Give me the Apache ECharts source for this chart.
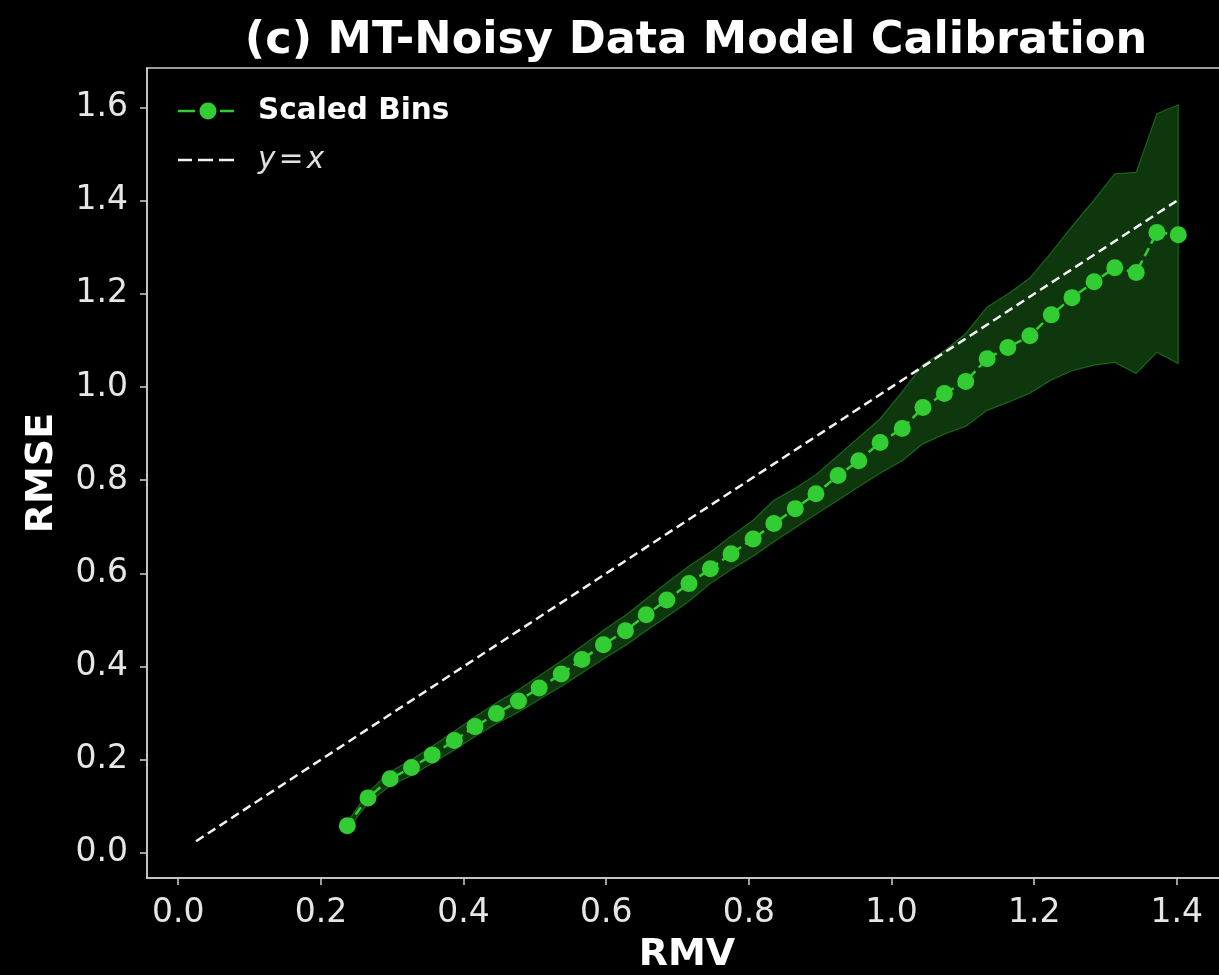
<!DOCTYPE html>
<html>
<head>
<meta charset="utf-8">
<script src="https://cdn.jsdelivr.net/npm/echarts@6/dist/echarts.min.js"></script>
<style>
html,body{margin:0;padding:0;background:#000;overflow:hidden}
#c{width:1219px;height:975px}
</style>
</head>
<body>
<div id="c"></div>
<script>
// RMV bin centers (x)
const rmv = [0.237,0.266,0.297,0.327,0.356,0.387,0.416,0.446,0.477,0.506,
             0.537,0.566,0.596,0.627,0.656,0.685,0.716,0.746,0.775,0.806,
             0.835,0.865,0.894,0.925,0.954,0.984,1.015,1.044,1.074,1.104,
             1.134,1.163,1.194,1.224,1.253,1.284,1.313,1.343,1.372,1.402];
// RMSE per bin (y)
const rmse = [0.058,0.118,0.159,0.183,0.210,0.241,0.271,0.299,0.326,0.354,
              0.384,0.415,0.447,0.477,0.511,0.543,0.578,0.610,0.642,0.674,
              0.707,0.739,0.771,0.810,0.842,0.881,0.911,0.956,0.986,1.012,
              1.061,1.085,1.110,1.155,1.192,1.226,1.256,1.246,1.332,1.327];
// lower / upper edge of the shaded band
const rmseLower = [0.050,0.106,0.144,0.166,0.192,0.221,0.250,0.277,0.302,0.329,
                   0.357,0.386,0.416,0.445,0.477,0.507,0.540,0.578,0.608,0.637,
                   0.668,0.698,0.727,0.757,0.786,0.815,0.842,0.878,0.899,0.916,
                   0.950,0.967,0.987,1.015,1.035,1.047,1.053,1.029,1.075,1.050];
const rmseUpper = [0.066,0.130,0.174,0.200,0.229,0.261,0.292,0.322,0.350,0.380,
                   0.412,0.444,0.478,0.510,0.545,0.580,0.616,0.646,0.680,0.714,
                   0.757,0.783,0.812,0.853,0.892,0.932,0.990,1.048,1.078,1.115,
                   1.172,1.200,1.234,1.289,1.345,1.402,1.458,1.461,1.587,1.606];
// identity line endpoints
const identityX = [0.025, 1.402];
// tick values
const xTicks = [0.0,0.2,0.4,0.6,0.8,1.0,1.2,1.4];
const yTicks = [0.0,0.2,0.4,0.6,0.8,1.0,1.2,1.4,1.6];

const FONT = 'DejaVu Sans';
const AX = '#d0d0d0';
const GREEN = '#32cd32';

const ICON_BINS = 'path://M0,7.3h17v2.4h-17z M21.5,8.5a8.5,8.5 0 1,0 17,0a8.5,8.5 0 1,0 -17,0z M42,7.3h14v2.4h-14z';
const ICON_ID = 'path://M0,0h0.01v0.01h-0.01z M0,7.3h14v2.4h-14z M20,7.3h15v2.4h-15z M41,7.3h15v2.4h-15z M55.99,16.99h0.01v0.01h-0.01z';

const chart = echarts.init(document.getElementById('c'), null, {renderer:'canvas'});

const option = {
  backgroundColor: '#000',
  animation: false,
  title: {
    text: '(c) MT-Noisy Data Model Calibration',
    left: 691, top: 14, textAlign: 'center',
    textStyle: {color:'#ffffff', fontFamily:FONT, fontWeight:'bold', fontSize:44.6}
  },
  grid: {
    left: 147, top: 68, width: 1080, height: 810,
    outerBoundsMode: 'none', containLabel: false,
    show: true, borderColor: AX, borderWidth: 1.5, backgroundColor: '#000'
  },
  legend: {
    data: [{name:'Scaled Bins', icon: ICON_BINS}, {name:'y = x', icon: ICON_ID}],
    orient: 'vertical',
    left: 173, top: 91,
    itemWidth: 56, itemHeight: 17, itemGap: 19,
    selectedMode: false,
    formatter: function (n) {
      return n === 'y = x' ? '{ii|y} {n|=} {i|x}' : '{b|Scaled Bins}';
    },
    textStyle: {
      color: '#fff',
      rich: {
        b: {fontFamily:FONT, fontWeight:'bold', fontSize:29.5, color:'#ffffff', lineHeight:32, padding:[0,0,0,19]},
        ii: {fontFamily:FONT, fontStyle:'italic', fontSize:29.5, color:'#e0e0e0', lineHeight:32, padding:[0,0,0,19]},
        i: {fontFamily:FONT, fontStyle:'italic', fontSize:29.5, color:'#e0e0e0', lineHeight:32},
        n: {fontFamily:FONT, fontSize:29.5, color:'#e0e0e0', lineHeight:32}
      }
    }
  },
  xAxis: {
    type: 'value', min: -0.0438, max: 1.4703,
    name: 'RMV', nameLocation: 'middle', nameGap: 58,
    nameTextStyle: {color:'#ffffff', fontFamily:FONT, fontWeight:'bold', fontSize:38},
    axisLine: {show:true, onZero:false, lineStyle:{color:AX, width:1.5}},
    axisTick: {show:true, inside:false, length:7, customValues:xTicks, lineStyle:{color:AX, width:1.5}},
    axisLabel: {customValues:xTicks, formatter: v => v.toFixed(1), color:'#e6e6e6', fontFamily:FONT, fontSize:33, margin:19},
    splitLine: {show:false}
  },
  yAxis: {
    type: 'value', min: -0.054, max: 1.685,
    name: 'RMSE', nameLocation: 'middle', nameGap: 86,
    nameTextStyle: {color:'#ffffff', fontFamily:FONT, fontWeight:'bold', fontSize:38},
    axisLine: {show:true, onZero:false, lineStyle:{color:AX, width:1.5}},
    axisTick: {show:true, inside:false, length:7, customValues:yTicks, lineStyle:{color:AX, width:1.5}},
    axisLabel: {customValues:yTicks, formatter: v => v.toFixed(1), color:'#e6e6e6', fontFamily:FONT, fontSize:33, margin:19},
    splitLine: {show:false}
  },
  series: [
    {
      name: 'band', type: 'custom', silent: true, z: 1,
      data: rmv.map((x, i) => [x, rmseLower[i], rmseUpper[i]]),
      encode: {x: 0, y: [1, 2]},
      renderItem: function (params, api) {
        if (params.dataIndex !== 0) return null;
        const up = [], lo = [];
        for (let i = 0; i < rmv.length; i++) {
          up.push(api.coord([rmv[i], rmseUpper[i]]));
          lo.push(api.coord([rmv[i], rmseLower[i]]));
        }
        return {
          type: 'polygon',
          shape: {points: up.concat(lo.reverse())},
          style: {fill:'rgba(50,205,50,0.27)', stroke:'rgba(50,205,50,0.4)', lineWidth:1.2}
        };
      }
    },
    {
      name: 'Scaled Bins', type: 'line', z: 4,
      data: rmv.map((x, i) => [x, rmse[i]]),
      symbol: 'circle', symbolSize: 17, showSymbol: true,
      itemStyle: {color: GREEN},
      lineStyle: {color: GREEN, width: 2.5, type: [9, 5]}
    },
    {
      name: 'y = x', type: 'line', z: 3,
      data: identityX.map(v => [v, v]),
      symbol: 'none',
      itemStyle: {color: '#f2f2f2'},
      lineStyle: {color: '#f2f2f2', width: 2.5, type: [9, 5]}
    }
  ]
};
chart.setOption(option);
</script>
</body>
</html>
